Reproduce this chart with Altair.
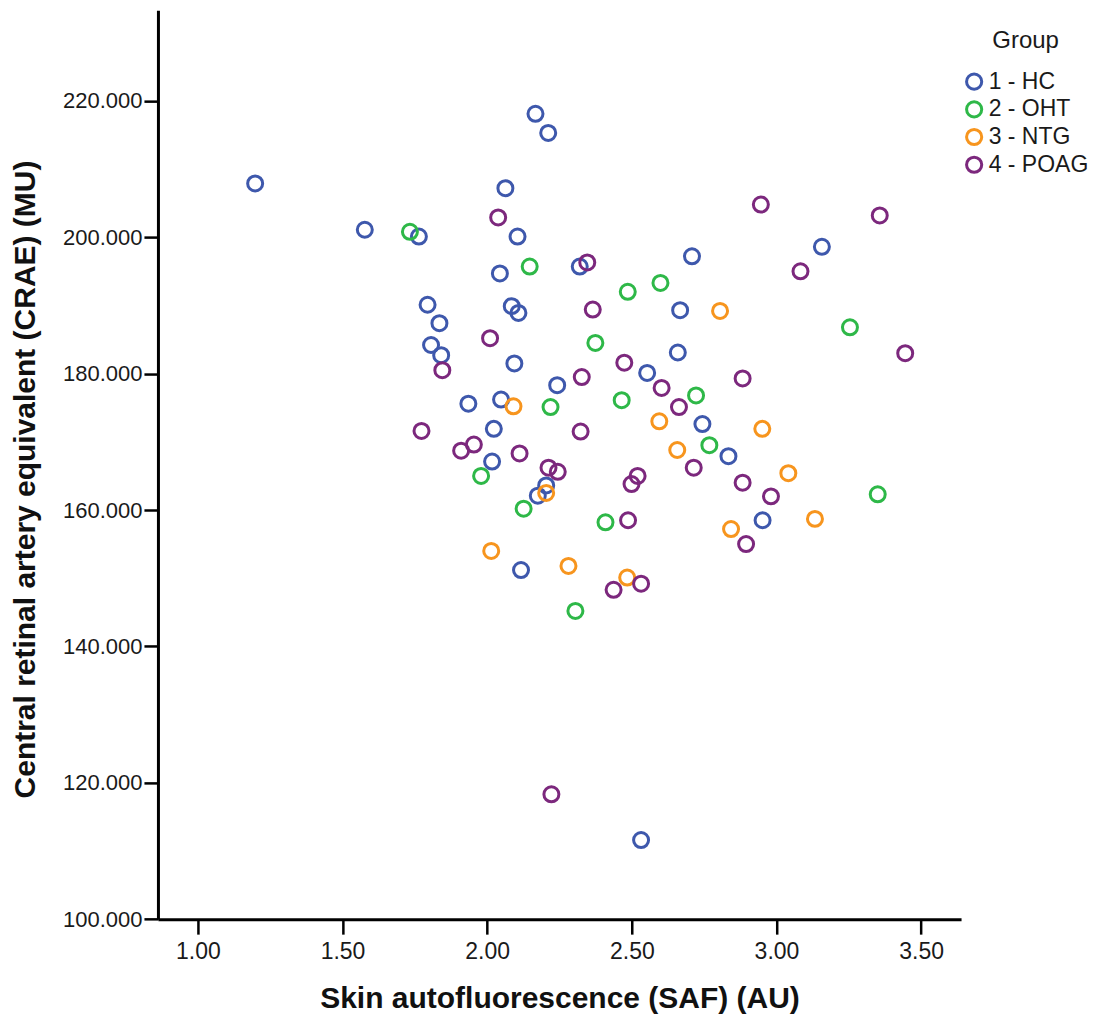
import altair as alt
import pandas as pd

groups = ["1 - HC", "2 - OHT", "3 - NTG", "4 - POAG"]
colors = ["#3E58AC", "#2EB848", "#F7951E", "#7C287D"]

hc_x = [1.198, 2.167, 2.211, 2.063, 1.577, 1.764, 2.105, 2.044, 2.320, 1.794,
        2.085, 2.108, 1.835, 1.806, 1.841, 2.094, 2.242, 1.935, 2.048, 2.023,
        2.017, 2.204, 2.175, 2.117, 2.708, 2.667, 3.157, 2.659, 2.553, 2.744,
        2.834, 2.952, 2.532]
hc_y = [207.9, 218.1, 215.3, 207.2, 201.1, 200.1, 200.1, 194.7, 195.7, 190.1,
        189.9, 188.9, 187.4, 184.2, 182.7, 181.5, 178.3, 175.6, 176.2, 171.9,
        167.1, 163.6, 162.1, 151.2, 197.2, 189.3, 198.6, 183.1, 180.1, 172.6,
        167.9, 158.5, 111.6]

oht_x = [1.733, 2.147, 2.486, 2.599, 3.254, 2.374, 2.219, 2.465, 2.722, 2.768,
         1.979, 3.350, 2.126, 2.409, 2.305]
oht_y = [200.8, 195.7, 192.0, 193.3, 186.8, 184.5, 175.1, 176.1, 176.8, 169.5,
         165.0, 162.3, 160.2, 158.2, 145.2]

ntg_x = [2.805, 2.091, 2.595, 2.657, 2.951, 3.041, 2.204, 3.133, 2.843, 2.014,
         2.281, 2.484]
ntg_y = [189.2, 175.2, 173.0, 168.8, 171.9, 165.4, 162.5, 158.7, 157.2, 154.0,
         151.8, 150.1]

poag_x = [2.038, 2.346, 2.365, 2.946, 3.357, 3.083, 2.010, 1.845, 2.327, 1.773,
          2.323, 1.954, 1.910, 2.112, 2.212, 2.244, 3.445, 2.474, 2.883, 2.603,
          2.663, 2.714, 2.520, 2.499, 2.883, 2.981, 2.487, 2.895, 2.437, 2.532,
          2.222]
poag_y = [202.9, 196.3, 189.4, 204.8, 203.2, 195.0, 185.2, 180.5, 179.5, 171.6,
          171.5, 169.6, 168.7, 168.3, 166.2, 165.6, 183.0, 181.6, 179.3, 177.9,
          175.1, 166.2, 165.0, 163.8, 164.0, 162.0, 158.5, 155.0, 148.3, 149.2,
          118.3]

x_ticks = [1.0, 1.5, 2.0, 2.5, 3.0, 3.5]
y_ticks = [100, 120, 140, 160, 180, 200, 220]

rows = []
for g, xs, ys in zip(groups, [hc_x, oht_x, ntg_x, poag_x], [hc_y, oht_y, ntg_y, poag_y]):
    for a, b in zip(xs, ys):
        rows.append({"group": g, "saf": a, "crae": b})
df = pd.DataFrame(rows)

FONT = "Liberation Sans"

chart = alt.Chart(df).mark_point(
    shape="circle", filled=False, size=225, strokeWidth=3, opacity=1
).encode(
    x=alt.X(
        "saf:Q",
        scale=alt.Scale(domain=[0.862, 3.638], nice=False, zero=False),
        axis=alt.Axis(
            values=x_ticks, format=".2f", title="Skin autofluorescence (SAF) (AU)",
            grid=False, labelFontSize=23, labelPadding=6, tickSize=15,
            titleX=401.7, titleY=88.5, titleAlign="center", titleBaseline="alphabetic",
        ),
    ),
    y=alt.Y(
        "crae:Q",
        scale=alt.Scale(domain=[100, 233.3], nice=False, zero=False),
        axis=alt.Axis(
            values=y_ticks, format=".3f", title="Central retinal artery equivalent (CRAE) (MU)",
            grid=False, labelFontSize=22, labelPadding=2, tickSize=14,
            titleX=-123.3, titleY=469, titleAngle=-90, titleAlign="center",
            titleBaseline="alphabetic",
        ),
    ),
    color=alt.Color(
        "group:N",
        scale=alt.Scale(domain=groups, range=colors),
        legend=alt.Legend(
            title="Group", orient="none", legendX=805, legendY=19,
            titleFontSize=24, titleFontWeight="normal", titleAnchor="middle",
            titleAlign="center", titlePadding=17, labelFontSize=23,
            symbolSize=230, symbolStrokeWidth=3, symbolType="circle",
            rowPadding=-1.3, labelOffset=3, padding=0,
        ),
    ),
).properties(
    width=803.4,
    height=909.3,
    padding={"left": 150, "top": 2, "right": 128, "bottom": 96},
    autosize=alt.AutoSizeParams(type="none"),
).configure_view(
    stroke=None
).configure_axis(
    domainColor="black", domainWidth=3, tickColor="black", tickWidth=2.5,
    labelColor="#1a1a1a", labelFont=FONT, titleFont=FONT, titleFontSize=30,
    titleFontWeight="bold", titleColor="#111111",
).configure_legend(
    labelFont=FONT, titleFont=FONT, labelColor="#1a1a1a", titleColor="#1a1a1a",
)

chart.save("out.html", embed_options={"renderer": "svg", "actions": False})
